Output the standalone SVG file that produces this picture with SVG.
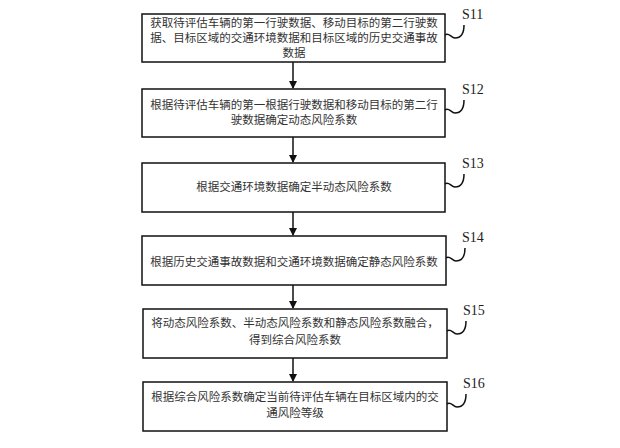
<svg xmlns="http://www.w3.org/2000/svg" width="620" height="448" viewBox="0 0 620 448">
<style>
.box{fill:#fff;stroke:#111;stroke-width:1.5}
.t{font-family:"Liberation Serif","Noto Sans CJK SC",serif;font-size:11.5px;fill:#333;text-anchor:middle}
.lbl{font-family:"Liberation Serif",serif;font-size:14px;fill:#222}
.sq{fill:none;stroke:#111;stroke-width:1.5}
.ar{stroke:#111;stroke-width:1.5;fill:none}
</style>
<defs>
<marker id="ah" markerWidth="8" markerHeight="8" refX="7" refY="4" orient="auto" markerUnits="userSpaceOnUse">
<path d="M0,0 L8,4 L0,8 Z" fill="#111"/>
</marker>
</defs>
<rect width="620" height="448" fill="#fff"/>
<g id="connectors">
<line class="ar" x1="293" y1="62" x2="293" y2="88" marker-end="url(#ah)"/>
<line class="ar" x1="293" y1="137" x2="293" y2="162" marker-end="url(#ah)"/>
<line class="ar" x1="293" y1="212" x2="293" y2="235" marker-end="url(#ah)"/>
<line class="ar" x1="293" y1="285" x2="293" y2="308" marker-end="url(#ah)"/>
<line class="ar" x1="293" y1="358" x2="293" y2="381" marker-end="url(#ah)"/>
</g>
<g id="S11">
<rect class="box" x="142" y="14" width="303" height="48"/>
<text class="t" x="294" y="27">获取待评估车辆的第一行驶数据、移动目标的第二行驶数</text>
<text class="t" x="294" y="42">据、目标区域的交通环境数据和目标区域的历史交通事故</text>
<text class="t" x="294" y="57">数据</text>
<path class="sq" d="M445,35 c4,-3 6,3 10,3 c6,0 9,-5 9,-13"/>
<text class="lbl" x="462" y="19">S11</text>
</g>
<g id="S12">
<rect class="box" x="142" y="89" width="303" height="48"/>
<text class="t" x="294" y="109">根据待评估车辆的第一根据行驶数据和移动目标的第二行</text>
<text class="t" x="294" y="124">驶数据确定动态风险系数</text>
<path class="sq" d="M445,110 c4,-3 6,3 10,3 c6,0 9,-5 9,-13"/>
<text class="lbl" x="462" y="94">S12</text>
</g>
<g id="S13">
<rect class="box" x="142" y="163" width="303" height="49"/>
<text class="t" x="294" y="191">根据交通环境数据确定半动态风险系数</text>
<path class="sq" d="M445,184 c4,-3 6,3 10,3 c6,0 9,-5 9,-13"/>
<text class="lbl" x="462" y="168">S13</text>
</g>
<g id="S14">
<rect class="box" x="142" y="236" width="304" height="49"/>
<text class="t" x="294" y="266">根据历史交通事故数据和交通环境数据确定静态风险系数</text>
<path class="sq" d="M446,258 c4,-3 6,3 10,3 c6,0 9,-5 9,-13"/>
<text class="lbl" x="462" y="242">S14</text>
</g>
<g id="S15">
<rect class="box" x="143" y="309" width="304" height="49"/>
<text class="t" x="295" y="327">将动态风险系数、半动态风险系数和静态风险系数融合，</text>
<text class="t" x="295" y="344">得到综合风险系数</text>
<path class="sq" d="M447,331 c4,-3 6,3 10,3 c6,0 9,-5 9,-13"/>
<text class="lbl" x="463" y="315">S15</text>
</g>
<g id="S16">
<rect class="box" x="143" y="382" width="304" height="49"/>
<text class="t" x="295" y="401">根据综合风险系数确定当前待评估车辆在目标区域内的交</text>
<text class="t" x="295" y="417">通风险等级</text>
<path class="sq" d="M447,404 c4,-3 6,3 10,3 c6,0 9,-5 9,-13"/>
<text class="lbl" x="463" y="388">S16</text>
</g>
</svg>
